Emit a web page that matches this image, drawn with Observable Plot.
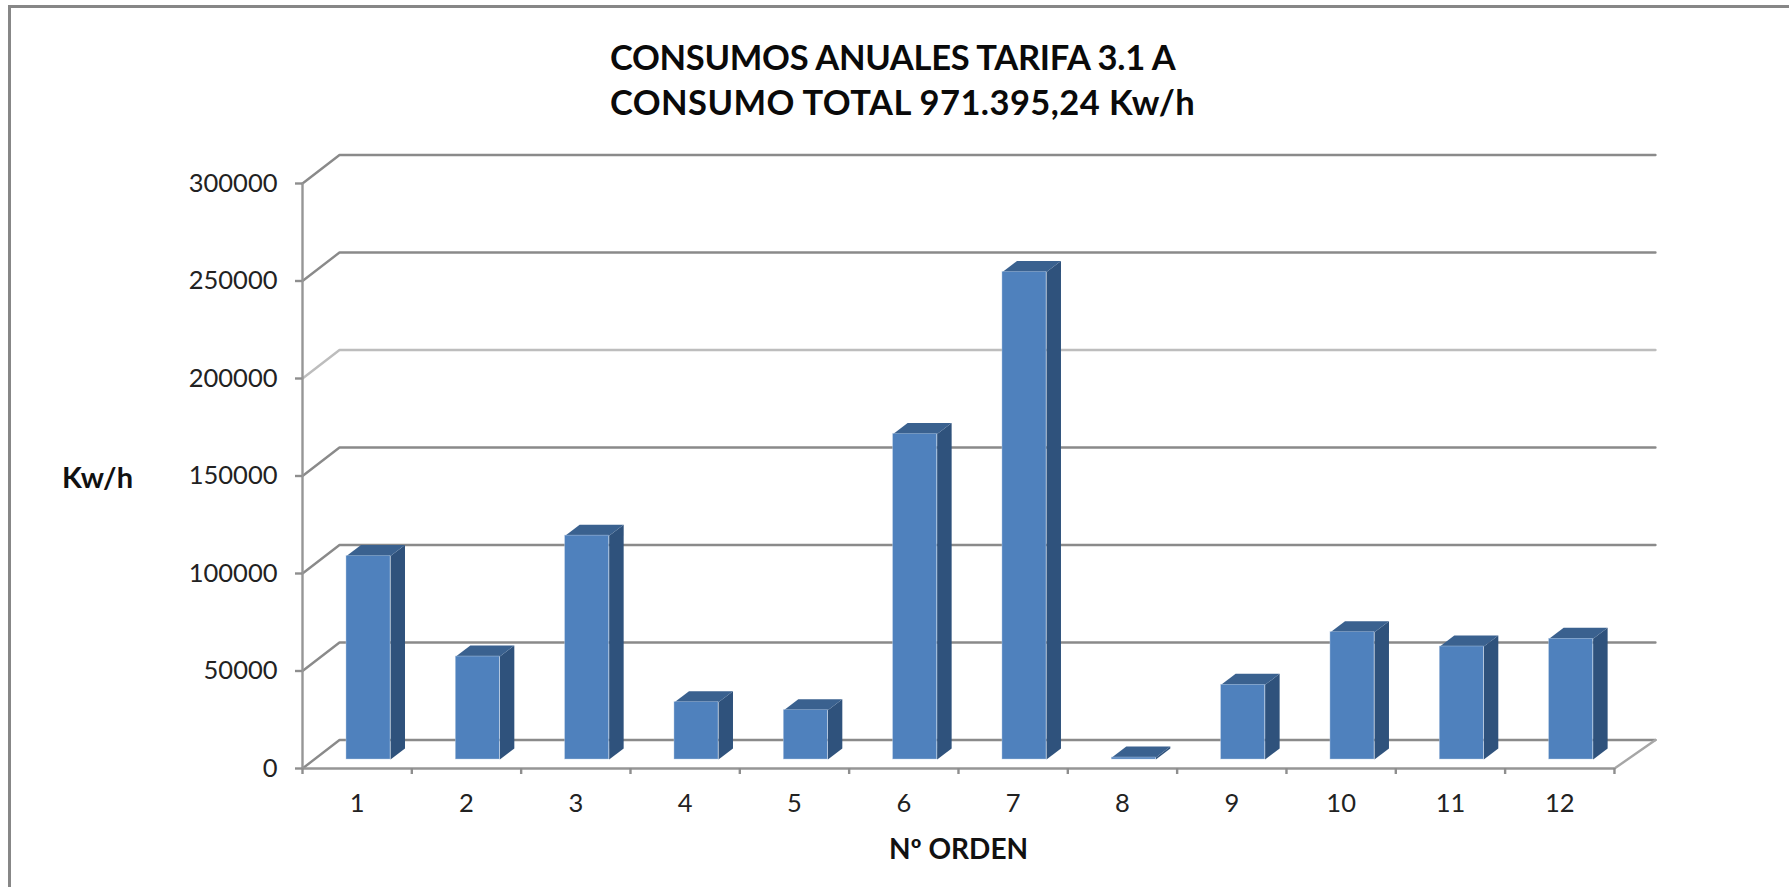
<!DOCTYPE html>
<html><head><meta charset="utf-8">
<script src="https://cdn.jsdelivr.net/npm/d3@7"></script>
<script src="https://cdn.jsdelivr.net/npm/@observablehq/plot@0.6"></script>
<style>
html,body{margin:0;padding:0;background:#fff;overflow:hidden}
#frame{position:absolute;left:8px;top:5px;right:0;bottom:0;border-left:3px solid #878787;border-top:3px solid #878787}
#title{position:absolute;left:610px;top:0;text-align:left;white-space:nowrap;font:bold 34.5px/45px Lato,sans-serif;color:#0a0a0a;padding-top:34px;margin:0}
#title span{display:block}
#chart{position:absolute;left:0;top:0}
</style></head><body>
<div id="frame"></div>
<div id="chart"></div>
<h1 id="title"><span style="letter-spacing:-.3px">CONSUMOS ANUALES TARIFA 3.1 A</span><span style="letter-spacing:.43px">CONSUMO TOTAL 971.395,24 Kw/h</span></h1>
<script>
const categories = ["1","2","3","4","5","6","7","8","9","10","11","12"];
const values = [104300,52800,114800,29400,25300,166900,250000,1000,38300,65300,57950,61900];
const yTicks = [0,50000,100000,150000,200000,250000,300000];
const gridColors = ["#8a8a8a","#8a8a8a","#8a8a8a","#8a8a8a","#bdbdbd","#8a8a8a","#8a8a8a"];
const titleX = "Nº ORDEN";
const titleY = "Kw/h";

// 3D projection of the Excel chart, in data units
const pxX = 109.33, pxY = 585 / 300000;
const wallDX = 37 / pxX, wallDY = 28.5 / pxY;
const endX = 12 + 41 / pxX;
const barL = 44 / pxX, barW = 44 / pxX;
const baseY = 9 / pxY;
const depX = 14.5 / pxX, depY = 11 / pxY;

const poly = (id, pts, c) => pts.map(([x,y]) => ({id, x, y, c}));
const walls = yTicks.flatMap((v,i) => poly("g"+i, [[0,v],[wallDX,v+wallDY],[endX,v+wallDY]], gridColors[i]));
const floorEdge = poly("floor", [[endX,wallDY],[12,0]], "#a6a6a6");

const fronts = values.map((v,i) => ({x1:i+barL, x2:i+barL+barW, y1:baseY, y2:v+baseY}));
const sides = values.flatMap((v,i) => {
  const r = i+barL+barW, b = baseY, t = v+baseY;
  return poly("s"+i, [[r,b],[r+depX,b+depY],[r+depX,t+depY],[r,t]], "#2f527c");
});
const tops = values.flatMap((v,i) => {
  const l = i+barL, r = l+barW, t = v+baseY;
  return poly("t"+i, [[l,t],[r,t],[r+depX,t+depY],[l+depX,t+depY]], "#3a618f");
});

const plot = Plot.plot({
  width:1789, height:887, marginLeft:302, marginRight:1789-302-12*pxX, marginTop:183, marginBottom:887-768,
  x:{type:"linear", domain:[0,12]},
  y:{type:"linear", domain:[0,300000]},
  style:{background:"transparent"},
  marks:[
    Plot.line(walls,{x:"x",y:"y",z:"id",stroke:"c",strokeWidth:2.4,curve:"linear"}),
    Plot.line(floorEdge,{x:"x",y:"y",z:"id",stroke:"c",strokeWidth:2.4}),
    Plot.ruleX([0],{y1:0,y2:300000,stroke:"#969696",strokeWidth:2.4}),
    Plot.ruleY([0],{x1:0,x2:12,stroke:"#969696",strokeWidth:2.4}),
    Plot.axisY({ticks:yTicks,tickSize:7,tickPadding:18,tickFormat:d=>String(d),label:null,fontSize:25.5,fontFamily:"Lato",stroke:"#8e8e8e",strokeWidth:2.4,strokeOpacity:1,color:"#222"}),
    Plot.axisX({ticks:d3.range(0,13),tickSize:6,tickFormat:()=>"",label:null,stroke:"#8e8e8e",strokeWidth:2.4,strokeOpacity:1}),
    Plot.axisX({ticks:d3.range(12).map(i=>i+.5),tickSize:0,tickPadding:25,tickFormat:d=>categories[Math.floor(d)],label:null,fontSize:25.5,fontFamily:"Lato",color:"#222"}),
    Plot.line(sides,{x:"x",y:"y",z:"id",fill:"c",stroke:"none"}),
    Plot.line(tops,{x:"x",y:"y",z:"id",fill:"c",stroke:"none"}),
    Plot.rect(fronts,{x1:"x1",x2:"x2",y1:"y1",y2:"y2",fill:"#4f81bd",stroke:"#b9cde5",strokeWidth:.6,strokeOpacity:.7}),
    Plot.text([titleX],{x:()=>6,y:()=>0,dy:82,text:d=>d,fontSize:28,fontWeight:"bold",fontFamily:"Lato",fill:"#111"}),
    Plot.text([titleY],{x:()=>0,y:()=>150000,dx:-205,dy:3,text:d=>d,fontSize:29,fontWeight:"bold",fontFamily:"Lato",fill:"#111"})
  ]
});
document.getElementById("chart").append(plot);
</script>
</body></html>
